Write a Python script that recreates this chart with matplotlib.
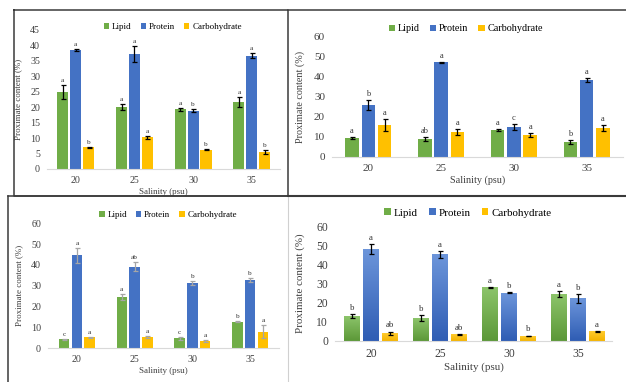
import numpy as np
import matplotlib
matplotlib.use('Agg')
import matplotlib.pyplot as plt
from matplotlib.lines import Line2D
from matplotlib.colors import LinearSegmentedColormap

salinity = ['20', '25', '30', '35']
series = ['Lipid', 'Protein', 'Carbohydrate']

# top-left panel
a_lipid = [25.0, 20.0, 19.3, 21.7]
a_lipid_err = [2.2, 1.0, 0.5, 1.5]
a_lipid_sig = ['a', 'a', 'a', 'a']
a_protein = [38.4, 37.3, 18.9, 36.7]
a_protein_err = [0.3, 2.6, 0.6, 0.8]
a_protein_sig = ['a', 'a', 'b', 'a']
a_carb = [7.0, 10.3, 6.3, 5.5]
a_carb_err = [0.2, 0.5, 0.2, 0.6]
a_carb_sig = ['b', 'a', 'b', 'b']

# top-right panel
b_lipid = [9.5, 9.2, 13.6, 7.5]
b_lipid_err = [0.5, 1.0, 0.5, 0.8]
b_lipid_sig = ['a', 'ab', 'a', 'b']
b_protein = [26.0, 47.3, 15.0, 38.5]
b_protein_err = [2.7, 0.4, 1.3, 1.0]
b_protein_sig = ['b', 'a', 'c', 'a']
b_carb = [16.0, 12.3, 11.2, 14.6]
b_carb_err = [3.2, 1.5, 1.0, 1.5]
b_carb_sig = ['a', 'a', 'a', 'a']

# bottom-left panel
c_lipid = [4.3, 24.5, 4.8, 12.8]
c_lipid_err = [0.2, 1.5, 0.8, 0.4]
c_lipid_sig = ['c', 'a', 'c', 'b']
c_protein = [44.6, 39.2, 31.5, 32.8]
c_protein_err = [3.7, 2.0, 1.0, 0.8]
c_protein_sig = ['a', 'ab', 'b', 'b']
c_carb = [5.3, 5.6, 3.5, 8.0]
c_carb_err = [0.2, 0.5, 0.6, 3.0]
c_carb_sig = ['a', 'a', 'a', 'a']

# bottom-right panel
d_lipid = [13.0, 12.0, 28.0, 24.5]
d_lipid_err = [1.0, 1.5, 0.3, 1.5]
d_lipid_sig = ['b', 'b', 'a', 'a']
d_protein = [48.0, 45.0, 25.0, 22.0]
d_protein_err = [2.5, 2.0, 0.3, 2.5]
d_protein_sig = ['a', 'a', 'b', 'b']
d_carb = [3.8, 3.3, 2.5, 5.0]
d_carb_err = [1.0, 0.3, 0.2, 0.2]
d_carb_sig = ['ab', 'ab', 'b', 'a']

colors = ['#70AD47', '#4472C4', '#FFC000']
grad_top = ['#8CC46A', '#6C95DA', '#FFCB2E']
grad_bot = ['#5C9838', '#2F5DB4', '#F5B400']

plt.rcParams['font.family'] = ['Liberation Serif', 'DejaVu Serif']

W, H = 626, 382
fig = plt.figure(figsize=(W / 100, H / 100), dpi=100)


def px_ax(x0, x1, y0, y1):
    # pixel box (left, right, y of zero, y of top) -> figure fraction
    return [x0 / W, 1 - y0 / H, (x1 - x0) / W, (y0 - y1) / H]


def panel(box, data, ymax, ystep, xlim, pitch, width, fs, leg_fs, leg_xy, ylab_x,
          err_color='black', gradient=False):
    ax = fig.add_axes(px_ax(*box))
    x = np.arange(len(salinity))
    for i, (vals, errs, sigs) in enumerate(data):
        pos = x + (i - 1) * pitch
        bars = ax.bar(pos, vals, width, color=colors[i], label=series[i], zorder=2)
        if gradient:
            cmap = LinearSegmentedColormap.from_list('g', [grad_bot[i], grad_top[i]])
            for b in bars:
                ax.imshow(np.linspace(0, 1, 50).reshape(-1, 1), cmap=cmap, origin='lower',
                          extent=[b.get_x(), b.get_x() + b.get_width(), 0, b.get_height()],
                          aspect='auto', zorder=2.5)
        ax.errorbar(pos, vals, yerr=errs, fmt='none', ecolor=err_color, elinewidth=0.9,
                    capsize=1.8, capthick=0.9, zorder=3)
        for p, v, e, s in zip(pos, vals, errs, sigs):
            ax.annotate(s, (p, v + e), xytext=(0, 1.5), textcoords='offset points',
                        ha='center', va='bottom', fontsize=fs - 2, color='#333333')
    ax.set_xlim(*xlim)
    ax.set_ylim(0, ymax)
    ax.set_xticks(x)
    ax.set_xticklabels(salinity)
    ax.set_yticks(np.arange(0, ymax + 1, ystep))
    for s in ['top', 'right', 'left']:
        ax.spines[s].set_visible(False)
    ax.spines['bottom'].set_color('#d9d9d9')
    ax.spines['bottom'].set_linewidth(0.8)
    ax.tick_params(length=0, labelsize=fs, colors='#404040', pad=5)
    ax.set_xlabel('Salinity (psu)', fontsize=leg_fs, color='#404040', labelpad=2)
    ax.set_ylabel('Proximate content (%)', fontsize=leg_fs, color='#404040')
    ax.yaxis.set_label_coords(ylab_x, 0.5)
    ax.legend(loc='center', bbox_to_anchor=leg_xy, ncol=3, frameon=False,
              fontsize=leg_fs, handlelength=0.6, handleheight=0.6,
              handletextpad=0.3, columnspacing=1.0, borderpad=0)
    ax.patch.set_alpha(0)
    return ax


panel((47, 280, 169, 30),
      [(a_lipid, a_lipid_err, a_lipid_sig), (a_protein, a_protein_err, a_protein_sig),
       (a_carb, a_carb_err, a_carb_sig)],
      45, 5, (-0.49, 3.48), 0.22, 0.19, 7.2, 6.5, (0.54, 1.02), -0.107)

panel((332, 623, 157, 37),
      [(b_lipid, b_lipid_err, b_lipid_sig), (b_protein, b_protein_err, b_protein_sig),
       (b_carb, b_carb_err, b_carb_sig)],
      60, 10, (-0.5, 3.5), 0.224, 0.186, 8.0, 7.3, (0.46, 1.067), -0.093)

panel((48, 279, 348.3, 223.3),
      [(c_lipid, c_lipid_err, c_lipid_sig), (c_protein, c_protein_err, c_protein_sig),
       (c_carb, c_carb_err, c_carb_sig)],
      60, 10, (-0.5, 3.5), 0.222, 0.18, 7.2, 6.5, (0.52, 1.066), -0.108, err_color='#a6a6a6')

panel((335, 612, 340.7, 226),
      [(d_lipid, d_lipid_err, d_lipid_sig), (d_protein, d_protein_err, d_protein_sig),
       (d_carb, d_carb_err, d_carb_sig)],
      60, 10, (-0.52, 3.49), 0.275, 0.23, 8.4, 7.9, (0.48, 1.113), -0.108, gradient=True)


def fline(xs, ys, color, lw):
    fig.add_artist(Line2D([x / W for x in xs], [1 - y / H for y in ys],
                          color=color, lw=lw, transform=fig.transFigure))


dark = '#3a3a3a'
# frames of the pasted panels
fline([288, 288], [196, 382], '#d0d0d0', 0.8)
fline([8, 8], [196, 382], dark, 1.1)
fline([8, 288], [196, 196], dark, 1.1)
fline([288, 626], [10, 10], dark, 1.1)
fline([288, 626], [195.5, 195.5], dark, 1.5)
fline([14, 288, 288, 14, 14], [9.5, 9.5, 196, 196, 9.5], dark, 1.1)

fig.savefig('out.png', dpi=100)
